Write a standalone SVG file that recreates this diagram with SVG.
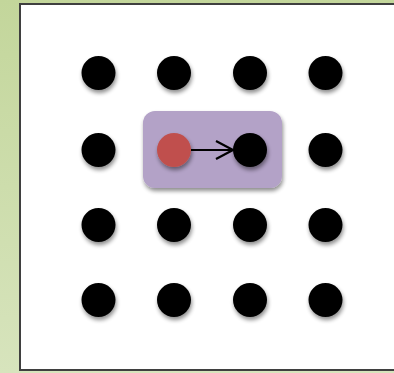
<svg xmlns="http://www.w3.org/2000/svg" width="394" height="373" viewBox="0 0 394 373">
<defs>
<linearGradient id="bg" x1="0" y1="0" x2="0" y2="1">
<stop offset="0" stop-color="#c3d69b"/>
<stop offset="1" stop-color="#d7e4bd"/>
</linearGradient>
<filter id="sh" x="-50%" y="-50%" width="200%" height="200%">
<feGaussianBlur in="SourceAlpha" stdDeviation="2"/>
<feOffset dx="1" dy="3" result="b"/>
<feComponentTransfer><feFuncA type="linear" slope="0.45"/></feComponentTransfer>
<feMerge><feMergeNode/><feMergeNode in="SourceGraphic"/></feMerge>
</filter>
<marker id="arr" viewBox="0 0 20 22" refX="19" refY="11" markerWidth="20" markerHeight="22" markerUnits="userSpaceOnUse" orient="auto">
<path d="M2,2 L19,11 L2,20" fill="none" stroke="#000" stroke-width="2.2"/>
</marker>
</defs>
<style>
.dot{fill:#000;filter:url(#sh)}
</style>
<rect x="0" y="0" width="394" height="373" fill="url(#bg)"/>
<rect x="20" y="4" width="380" height="366" fill="#fff" stroke="#3f3f3f" stroke-width="2"/>
<g id="highlight"><rect x="143" y="111" width="139" height="77" rx="12" fill="#b3a2c7" filter="url(#sh)"/></g>
<g id="n00"><circle class="dot" cx="98.5" cy="73" r="17"/></g>
<g id="n01"><circle class="dot" cx="174" cy="73" r="17"/></g>
<g id="n02"><circle class="dot" cx="250" cy="73" r="17"/></g>
<g id="n03"><circle class="dot" cx="325.5" cy="73" r="17"/></g>
<g id="n10"><circle class="dot" cx="98.5" cy="150" r="17"/></g>
<g id="n11"><circle cx="174" cy="150" r="17" fill="#c0504d" filter="url(#sh)"/></g>
<g id="n12"><circle class="dot" cx="250" cy="150" r="17"/></g>
<g id="n13"><circle class="dot" cx="325.5" cy="150" r="17"/></g>
<g id="n20"><circle class="dot" cx="98.5" cy="225" r="17"/></g>
<g id="n21"><circle class="dot" cx="174" cy="225" r="17"/></g>
<g id="n22"><circle class="dot" cx="250" cy="225" r="17"/></g>
<g id="n23"><circle class="dot" cx="325.5" cy="225" r="17"/></g>
<g id="n30"><circle class="dot" cx="98.5" cy="300" r="17"/></g>
<g id="n31"><circle class="dot" cx="174" cy="300" r="17"/></g>
<g id="n32"><circle class="dot" cx="250" cy="300" r="17"/></g>
<g id="n33"><circle class="dot" cx="325.5" cy="300" r="17"/></g>
<g id="connectors">
<line x1="191" y1="150" x2="233" y2="150" stroke="#000" stroke-width="2" marker-end="url(#arr)"/>
</g>
</svg>
